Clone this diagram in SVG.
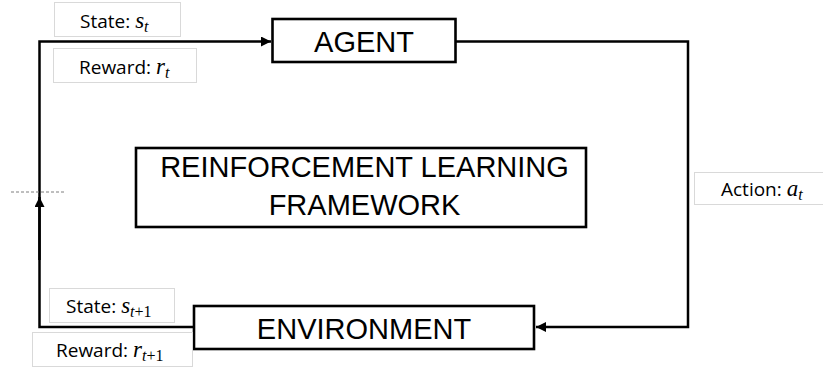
<svg xmlns="http://www.w3.org/2000/svg" width="823" height="368" viewBox="0 0 823 368">
<style>
.node{fill:#fff;stroke:#000;stroke-width:2.6}
.big{font-family:"Liberation Sans",Arial,sans-serif;font-size:29px;fill:#000;text-anchor:middle}
.lbl{fill:#fff;stroke:#d9d9d9;stroke-width:1}
.lt{font-family:"Open Sans","Liberation Sans",sans-serif;font-size:19px;fill:#000}
.m{font-family:"Liberation Serif",serif;font-style:italic;font-size:23px}
.sub{font-family:"Liberation Serif",serif;font-style:italic;font-size:16px}
.subn{font-family:"Liberation Serif",serif;font-size:16px;font-style:normal}
.conn{fill:none;stroke:#000;stroke-width:2.5}
</style>
<defs>
<marker id="arr" viewBox="0 0 10 10" refX="10" refY="5" markerWidth="4" markerHeight="4" orient="auto" markerUnits="strokeWidth">
<path d="M0,0 L10,5 L0,10 z" fill="#000"/>
</marker>
</defs>
<g id="connectors">
<path class="conn" d="M456,41.5 H688 V327 H536" marker-end="url(#arr)"/>
<path class="conn" d="M194,327 H39.5 V41.5 H271" marker-end="url(#arr)"/>
<path class="conn" d="M39.5,260 V197" marker-end="url(#arr)"/>
<line x1="11" y1="192" x2="64" y2="192" stroke="#7f7f7f" stroke-width="1" stroke-dasharray="3,2"/>
</g>
<g id="agent">
<rect class="node" x="272.5" y="19" width="183" height="43"/>
<text class="big" x="364" y="52">AGENT</text>
</g>
<g id="environment">
<rect class="node" x="194" y="306" width="340" height="43"/>
<text class="big" x="364" y="339">ENVIRONMENT</text>
</g>
<g id="framework">
<rect class="node" x="136" y="148" width="450" height="79"/>
<text class="big" x="364.5" y="177">REINFORCEMENT LEARNING</text>
<text class="big" x="364.5" y="215">FRAMEWORK</text>
</g>
<g id="label-state-t">
<rect class="lbl" x="54.5" y="2.5" width="126" height="34"/>
<text class="lt" x="80" y="28">State: <tspan class="m">s</tspan><tspan class="sub" dy="4">t</tspan></text>
</g>
<g id="label-reward-t">
<rect class="lbl" x="53.5" y="48.5" width="143" height="34"/>
<text class="lt" x="79" y="74">Reward: <tspan class="m">r</tspan><tspan class="sub" dy="4">t</tspan></text>
</g>
<g id="label-action">
<rect class="lbl" x="694.5" y="172.5" width="140" height="32"/>
<text class="lt" x="721" y="196">Action: <tspan class="m">a</tspan><tspan class="sub" dy="4">t</tspan></text>
</g>
<g id="label-state-t1">
<rect class="lbl" x="49.5" y="288.5" width="125" height="34"/>
<text class="lt" x="66" y="313">State: <tspan class="m">s</tspan><tspan class="sub" dy="4">t</tspan><tspan class="subn">+1</tspan></text>
</g>
<g id="label-reward-t1">
<rect class="lbl" x="32.5" y="332.5" width="160" height="34"/>
<text class="lt" x="56" y="357">Reward: <tspan class="m">r</tspan><tspan class="sub" dy="4">t</tspan><tspan class="subn">+1</tspan></text>
</g>
</svg>
